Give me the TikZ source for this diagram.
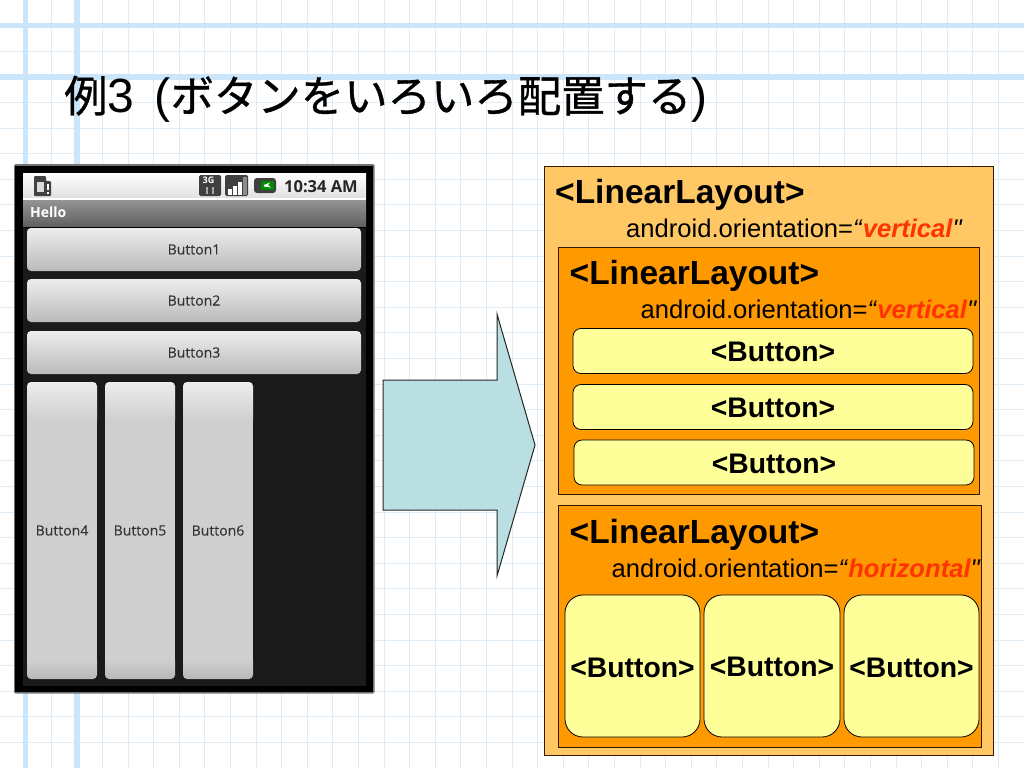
\documentclass[tikz,border=0pt]{standalone}
\usepackage{fontspec}
\setmainfont{Liberation Sans}
\newfontfamily\cjk[FakeBold=0.8]{Noto Sans CJK JP}
\newfontfamily\droid{Open Sans}
\newfontfamily\droidreg[FakeBold=0.2]{Open Sans}
\newfontfamily\plainsans{Liberation Sans}
\usetikzlibrary{calc}
\definecolor{gridthin}{HTML}{DFEBF5}
\definecolor{gridthick}{HTML}{CBE6FB}
\definecolor{outerfill}{HTML}{FFC864}
\definecolor{innerfill}{HTML}{FF9900}
\definecolor{btnfill}{HTML}{FFFF99}
\definecolor{redtxt}{HTML}{FF3300}
\definecolor{arrowfill}{HTML}{B9DFE3}
\definecolor{phonebg}{HTML}{1A1A1A}
\tikzset{
  outerbox/.style={draw=black!80!orange,line width=0.8pt,fill=outerfill},
  innerbox/.style={draw=black!80!orange,line width=0.8pt,fill=innerfill},
  xmlbtn/.style={draw=black,line width=0.8pt,fill=btnfill,rounded corners=8pt},
  xmlbtnv/.style={draw=black,line width=0.8pt,fill=btnfill,rounded corners=18pt},
  tagbig/.style={inner sep=0pt,anchor=base west,font=\fontsize{33.5}{33.5}\selectfont\bfseries},
  tagbtn/.style={inner sep=0pt,anchor=base,font=\fontsize{28.3}{28.3}\selectfont\bfseries},
  attr/.style={inner sep=0pt,anchor=base west,font=\fontsize{25.6}{25.6}\selectfont},
  droidlbl/.style={inner sep=0pt,anchor=center,text=black!80,font=\droidreg\fontsize{14}{14}\selectfont},
}
\newcommand{\orient}[1]{android.orientation=\textit{“}\textit{\textbf{\textcolor{redtxt}{#1}}}{\plainsans\itshape"}}
\begin{document}
\begin{tikzpicture}[x=1pt,y=-1pt]
\useasboundingbox (0,0) rectangle (1024,768);
\fill[white] (0,0) rectangle (1024,768);
% paper grid
\foreach \i in {1,...,39}{\draw[gridthin,line width=1pt] ({25.6*\i},0) -- ({25.6*\i},768);}
\foreach \i in {1,...,29}{\draw[gridthin,line width=1pt] (0,{25.6*\i}) -- (1024,{25.6*\i});}
\foreach \v in {25.6,76.8}{
  \draw[gridthick,line width=5.5pt] (\v,0) -- (\v,768);
  \draw[gridthick,line width=5.5pt] (0,\v) -- (1024,\v);
}
% title
\node[inner sep=0pt,anchor=base west,font=\fontsize{48}{48}\selectfont] (title) at (64,112)
  {{\cjk\fontsize{43.4}{48}\selectfont 例}3\kern7pt\ ({\cjk\fontsize{43.4}{48}\selectfont ボタンをいろいろ配置する})};
% phone
\fill[black!55,rounded corners=1.5pt] (14,164) rectangle (374.5,693.5);
\fill[black] (15,165.5) rectangle (373,691.5);
\fill[phonebg] (23,228) rectangle (366,686);
\shade[top color=white,bottom color=black!12] (23,173) rectangle (366,198);
\fill[white] (23,198) rectangle (366,200);
\shade[top color=black!42,bottom color=black!62] (23,200) rectangle (366,226);
\node[inner sep=0pt,anchor=base west,text=white,font=\droid\bfseries\fontsize{14}{14}\selectfont] (hello) at (30,217) {Hello};
\node[inner sep=0pt,anchor=base east,text=black!85,font=\droid\bfseries\fontsize{16.5}{16.5}\selectfont] (clock) at (358,192) {10:34 AM};
% status icons
\fill[black!75,rounded corners=1pt] (34,176) -- (46,176) -- (46,181) -- (51,181) -- (51,196) -- (34,196) -- cycle;
\fill[black!15] (37,182) rectangle (44,192);
\fill[white] (47,184) rectangle (49,190);
\fill[white] (47,192) rectangle (49,194);
\fill[black!75,rounded corners=1.5pt] (199,175) rectangle (221,196);
\node[inner sep=0pt,text=white,font=\droid\bfseries\fontsize{9}{9}\selectfont] (threeg) at (208.5,180.5) {3G};
\fill[black!35] (206,187) rectangle (208,194);
\fill[black!35] (212,187) rectangle (214,194);
\fill[black!75,rounded corners=1.5pt] (225,175) rectangle (248,196);
\foreach \x/\t in {228/189,233/186,238/182}{\fill[white] (\x,\t) rectangle ++(3.5,{195-\t});}
\fill[black!45] (243,177) rectangle (246.5,195);
\fill[black!75,rounded corners=3pt] (254,178) rectangle (276,193);
\fill[green!55!black] (261,181) rectangle (274,190);
\fill[white] (264,185) -- (270,182.5) -- (268,185) -- (271,187.5) -- (264,186.5) -- cycle;
% phone buttons
\foreach \n/\y in {1/228,2/279,3/331}{
  \shade[top color=black!7,bottom color=black!27,rounded corners=4pt] (27,\y) rectangle (361,{\y+43});
  \node[droidlbl] (pb\n) at (194,{\y+21.5}) {Button\n};
}
\foreach \n/\x in {4/27,5/105,6/183}{
  \begin{scope}
    \clip[rounded corners=4pt] (\x,382) rectangle ({\x+70},679);
    \shade[top color=black!7,bottom color=black!19] (\x,382) rectangle ({\x+70},420);
    \fill[black!19] (\x,419.5) rectangle ({\x+70},661);
    \shade[top color=black!19,bottom color=black!28] (\x,660.5) rectangle ({\x+70},679);
  \end{scope}
  \node[droidlbl] (pb\n) at ({\x+35},530.5) {Button\n};
}
% arrow
\draw[fill=arrowfill,draw=black!85,line width=1pt] (383,380) -- (497,380) -- (497,314) -- (535,445) -- (497,576) -- (497,510) -- (383,510) -- cycle;
% outer layout
\draw[outerbox] (544,166) rectangle (993,755);
\node[tagbig] (t0) at (555,203.5) {<LinearLayout>};
\node[attr] (a0) at (626,237) {\orient{vertical}};
% vertical inner layout
\draw[innerbox] (558,247) rectangle (979,494);
\node[tagbig] (t1) at (569.5,284.5) {<LinearLayout>};
\node[attr] (a1) at (640.5,318) {\orient{vertical}};
\draw[xmlbtn] (573,328.5) rectangle (973,373.5);
\node[tagbtn] (b1) at (773,361.5) {<Button>};
\draw[xmlbtn] (573,384.5) rectangle (973,429.5);
\node[tagbtn] (b2) at (773,417) {<Button>};
\draw[xmlbtn] (574,440) rectangle (974,485);
\node[tagbtn] (b3) at (774,473) {<Button>};
% horizontal inner layout
\draw[innerbox] (558,505) rectangle (981,747);
\node[tagbig] (t2) at (569.5,543.5) {<LinearLayout>};
\node[attr] (a2) at (611.5,577) {\orient{horizontal}};
\draw[xmlbtnv] (565,595) rectangle (700,737);
\node[tagbtn] (b4) at (632.5,677) {<Button>};
\draw[xmlbtnv] (704,595) rectangle (840,737);
\node[tagbtn] (b5) at (772,676) {<Button>};
\draw[xmlbtnv] (844,595) rectangle (979,737);
\node[tagbtn] (b6) at (911.5,677) {<Button>};
\end{tikzpicture}
\end{document}
